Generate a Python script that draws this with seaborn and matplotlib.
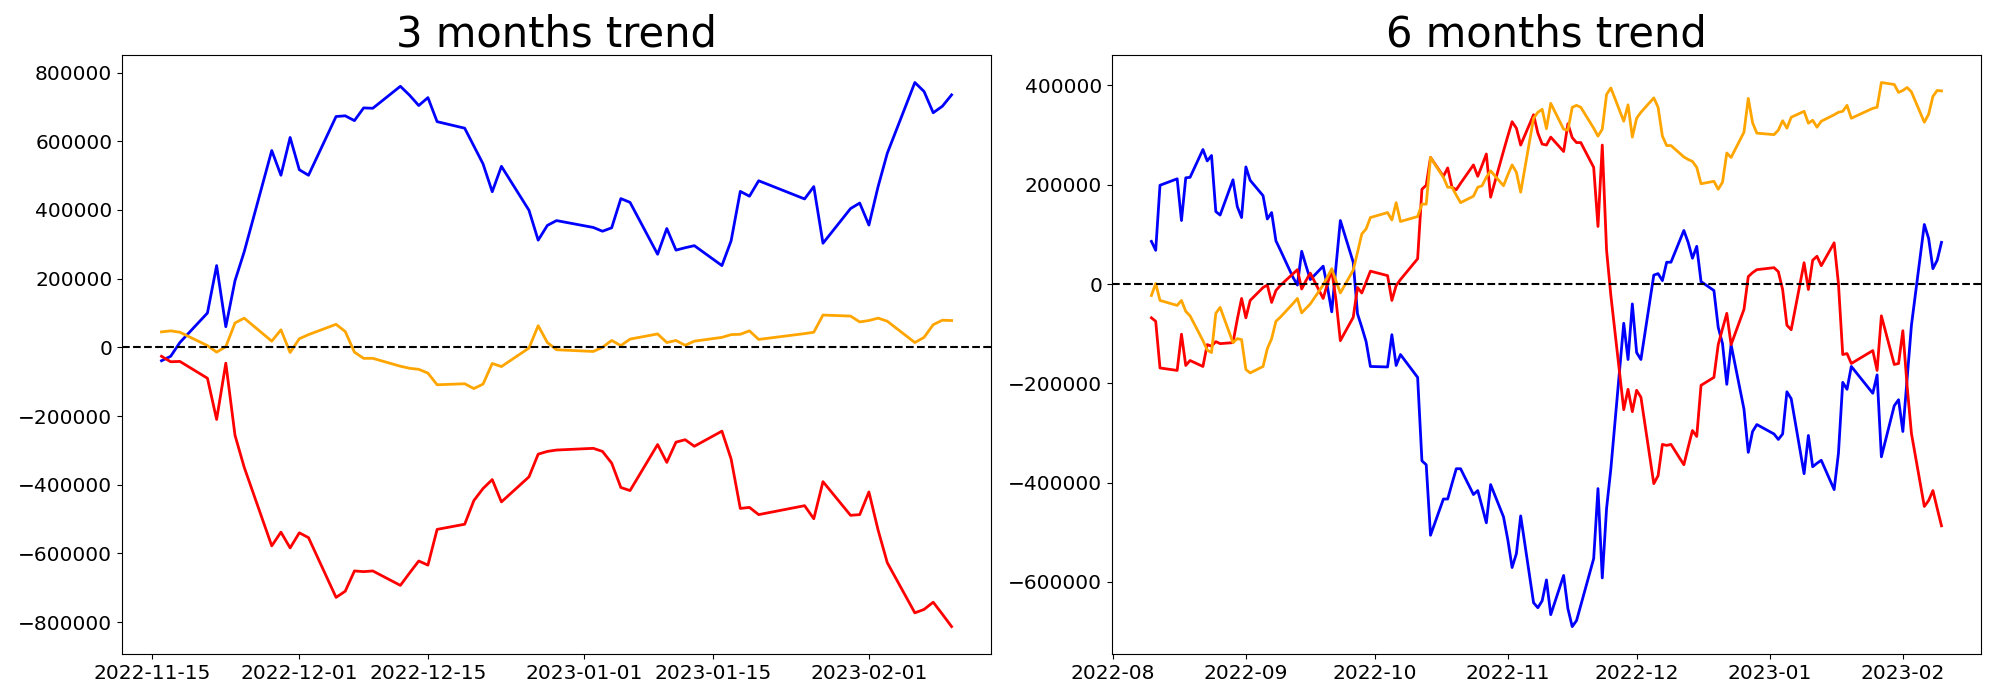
import pandas as pd
import seaborn as sns
import matplotlib.pyplot as plt

# 3 months window (cumulative since 2022-11-15)
dates_3m = ['2022-11-16', '2022-11-17', '2022-11-18', '2022-11-21', '2022-11-22', '2022-11-23',
            '2022-11-24', '2022-11-25', '2022-11-28', '2022-11-29', '2022-11-30', '2022-12-01',
            '2022-12-02', '2022-12-05', '2022-12-06', '2022-12-07', '2022-12-08', '2022-12-09',
            '2022-12-12', '2022-12-13', '2022-12-14', '2022-12-15', '2022-12-16', '2022-12-19',
            '2022-12-20', '2022-12-21', '2022-12-22', '2022-12-23', '2022-12-26', '2022-12-27',
            '2022-12-28', '2022-12-29', '2023-01-02', '2023-01-03', '2023-01-04', '2023-01-05',
            '2023-01-06', '2023-01-09', '2023-01-10', '2023-01-11', '2023-01-12', '2023-01-13',
            '2023-01-16', '2023-01-17', '2023-01-18', '2023-01-19', '2023-01-20', '2023-01-25',
            '2023-01-26', '2023-01-27', '2023-01-30', '2023-01-31', '2023-02-01', '2023-02-02',
            '2023-02-03', '2023-02-06', '2023-02-07', '2023-02-08', '2023-02-09', '2023-02-10']
blue_3m = [-39000, -26000, 14000, 100000, 238000, 60000, 194000, 278000, 573000, 501000,
           611000, 517000, 501000, 672000, 674000, 660000, 697000, 696000, 760000, 734000,
           704000, 727000, 657000, 638000, 586000, 534000, 453000, 527000, 399000, 312000,
           355000, 369000, 349000, 338000, 348000, 433000, 422000, 271000, 346000, 283000,
           290000, 296000, 238000, 310000, 454000, 440000, 485000, 432000, 468000, 303000,
           404000, 420000, 356000, 468000, 565000, 771000, 745000, 683000, 702000, 735000]
red_3m = [-26000, -42000, -41000, -90000, -210000, -46000, -256000, -349000, -578000, -538000,
          -584000, -540000, -554000, -728000, -710000, -651000, -653000, -651000, -693000, -657000,
          -622000, -634000, -530000, -515000, -446000, -411000, -385000, -450000, -377000, -311000,
          -303000, -299000, -294000, -303000, -337000, -408000, -417000, -283000, -335000, -276000,
          -269000, -288000, -244000, -325000, -469000, -466000, -487000, -461000, -499000, -391000,
          -489000, -487000, -421000, -532000, -627000, -773000, -763000, -742000, -777000, -813000]
orange_3m = [45000, 48000, 44000, 5000, -14000, 2000, 71000, 85000, 18000, 51000,
             -15000, 25000, 37000, 67000, 46000, -14000, -32000, -32000, -55000, -61000,
             -64000, -75000, -109000, -106000, -120000, -107000, -47000, -56000, -2000, 63000,
             14000, -7000, -12000, 0, 20000, 5000, 24000, 39000, 14000, 20000,
             6000, 18000, 29000, 37000, 38000, 48000, 23000, 40000, 44000, 94000,
             91000, 74000, 78000, 85000, 76000, 14000, 29000, 66000, 79000, 78000]

# 6 months window (cumulative since 2022-08-09)
dates_6m = ['2022-08-10', '2022-08-11', '2022-08-12', '2022-08-16', '2022-08-17', '2022-08-18',
            '2022-08-19', '2022-08-22', '2022-08-23', '2022-08-24', '2022-08-25', '2022-08-26',
            '2022-08-29', '2022-08-30', '2022-08-31',
            '2022-09-01', '2022-09-02', '2022-09-05', '2022-09-06', '2022-09-07', '2022-09-08',
            '2022-09-09', '2022-09-12', '2022-09-13', '2022-09-14', '2022-09-15', '2022-09-16',
            '2022-09-19', '2022-09-20', '2022-09-21', '2022-09-22', '2022-09-23', '2022-09-26',
            '2022-09-27', '2022-09-28', '2022-09-29', '2022-09-30',
            '2022-10-04', '2022-10-05', '2022-10-06', '2022-10-07', '2022-10-11', '2022-10-12',
            '2022-10-13', '2022-10-14', '2022-10-17', '2022-10-18', '2022-10-19', '2022-10-20',
            '2022-10-21', '2022-10-24', '2022-10-25', '2022-10-26', '2022-10-27', '2022-10-28',
            '2022-10-31',
            '2022-11-01', '2022-11-02', '2022-11-03', '2022-11-04', '2022-11-07', '2022-11-08',
            '2022-11-09', '2022-11-10', '2022-11-11', '2022-11-14', '2022-11-15', '2022-11-16',
            '2022-11-17', '2022-11-18', '2022-11-21', '2022-11-22', '2022-11-23', '2022-11-24',
            '2022-11-25', '2022-11-28', '2022-11-29', '2022-11-30',
            '2022-12-01', '2022-12-02', '2022-12-05', '2022-12-06', '2022-12-07', '2022-12-08',
            '2022-12-09', '2022-12-12', '2022-12-13', '2022-12-14', '2022-12-15', '2022-12-16',
            '2022-12-19', '2022-12-20', '2022-12-21', '2022-12-22', '2022-12-23', '2022-12-26',
            '2022-12-27', '2022-12-28', '2022-12-29',
            '2023-01-02', '2023-01-03', '2023-01-04', '2023-01-05', '2023-01-06', '2023-01-09',
            '2023-01-10', '2023-01-11', '2023-01-12', '2023-01-13', '2023-01-16', '2023-01-17',
            '2023-01-18', '2023-01-19', '2023-01-20', '2023-01-25', '2023-01-26', '2023-01-27',
            '2023-01-30', '2023-01-31',
            '2023-02-01', '2023-02-02', '2023-02-03', '2023-02-06', '2023-02-07', '2023-02-08',
            '2023-02-09', '2023-02-10']
blue_6m = [86000, 68000, 199000, 212000, 128000, 214000, 215000, 271000, 248000, 259000,
           146000, 139000, 210000, 156000, 134000,
           236000, 209000, 178000, 131000, 144000, 87000, 69000, 13000, -2000, 66000,
           37000, 9000, 36000, -6000, -56000, 37000, 128000, 44000, -60000, -87000,
           -116000, -166000,
           -167000, -102000, -164000, -142000, -188000, -356000, -364000, -506000, -433000, -433000,
           -402000, -372000, -372000, -424000, -416000, -448000, -481000, -404000, -469000,
           -515000, -571000, -543000, -467000, -642000, -652000, -638000, -596000, -666000, -587000,
           -654000, -690000, -678000, -647000, -553000, -412000, -592000, -452000, -372000, -79000,
           -152000, -40000,
           -138000, -152000, 18000, 21000, 7000, 44000, 44000, 108000, 84000, 52000,
           76000, 5000, -13000, -87000, -120000, -202000, -122000, -252000, -339000, -297000,
           -283000,
           -302000, -313000, -302000, -217000, -231000, -382000, -305000, -368000, -361000, -355000,
           -414000, -341000, -198000, -212000, -166000, -220000, -183000, -348000, -245000, -233000,
           -297000, -190000, -83000, 120000, 92000, 31000, 48000, 84000]
red_6m = [-68000, -75000, -169000, -174000, -101000, -164000, -154000, -166000, -122000, -125000,
          -116000, -120000, -118000, -71000, -29000,
          -68000, -33000, -7000, -2000, -37000, -13000, -3000, 21000, 29000, -10000,
          7000, 22000, -29000, 1000, 28000, -33000, -114000, -67000, -7000, -18000,
          4000, 26000,
          17000, -33000, -3000, 9000, 51000, 191000, 199000, 255000, 217000, 234000,
          195000, 190000, 203000, 240000, 217000, 239000, 262000, 175000, 268000,
          298000, 327000, 314000, 280000, 341000, 304000, 282000, 280000, 296000, 267000,
          323000, 295000, 285000, 285000, 235000, 116000, 280000, 68000, -23000, -253000,
          -212000, -257000,
          -214000, -228000, -402000, -386000, -323000, -325000, -323000, -364000, -329000, -295000,
          -307000, -204000, -188000, -122000, -90000, -59000, -122000, -51000, 15000, 23000,
          29000,
          33000, 25000, -11000, -83000, -92000, 43000, -11000, 48000, 56000, 37000,
          83000, 1000, -142000, -140000, -160000, -134000, -174000, -64000, -162000, -160000,
          -94000, -206000, -301000, -448000, -436000, -416000, -452000, -487000]
orange_6m = [-23000, 1000, -33000, -43000, -33000, -55000, -64000, -114000, -133000, -138000,
             -59000, -47000, -118000, -110000, -112000,
             -172000, -179000, -166000, -130000, -110000, -75000, -67000, -39000, -29000, -58000,
             -49000, -40000, -2000, 14000, 31000, 6000, -18000, 28000, 64000, 101000,
             111000, 134000,
             144000, 129000, 164000, 126000, 136000, 161000, 161000, 255000, 215000, 195000,
             195000, 179000, 164000, 177000, 195000, 198000, 215000, 228000, 198000,
             220000, 240000, 225000, 185000, 334000, 346000, 352000, 313000, 364000, 312000,
             310000, 356000, 360000, 356000, 314000, 298000, 312000, 382000, 395000, 328000,
             361000, 296000,
             334000, 346000, 375000, 356000, 298000, 279000, 279000, 256000, 251000, 247000,
             235000, 202000, 207000, 191000, 205000, 264000, 255000, 306000, 374000, 325000,
             304000,
             301000, 310000, 329000, 314000, 336000, 348000, 324000, 330000, 316000, 328000,
             341000, 346000, 348000, 360000, 334000, 354000, 356000, 406000, 402000, 386000,
             390000, 396000, 387000, 326000, 342000, 378000, 390000, 389000]


def draw_trend(ax, dates, blue, red, orange, title):
    df = pd.DataFrame({'date': pd.to_datetime(dates), 'blue': blue,
                       'red': red, 'orange': orange})
    for col in ['blue', 'red', 'orange']:
        sns.lineplot(data=df, x='date', y=col, color=col, linewidth=2, ax=ax)
    ax.axhline(0, color='black', linestyle='--', linewidth=1.5)
    ax.set_title(title, fontsize=30)
    ax.set(xlabel='', ylabel='')
    ax.tick_params(labelsize=14.5)


fig, axes = plt.subplots(1, 2, figsize=(20, 7))
fig.subplots_adjust(left=0.061, right=0.9905, bottom=0.066, top=0.921, wspace=0.139)

draw_trend(axes[0], dates_3m, blue_3m, red_3m, orange_3m, '3 months trend')
draw_trend(axes[1], dates_6m, blue_6m, red_6m, orange_6m, '6 months trend')

plt.savefig('out.png', dpi=100)
